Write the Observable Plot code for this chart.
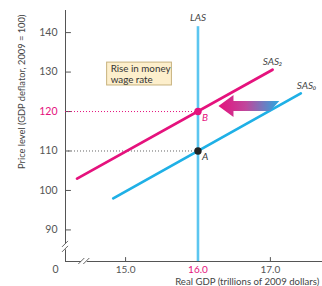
<!DOCTYPE html>
<html><head><meta charset="utf-8">
<script src="https://cdn.jsdelivr.net/npm/d3@7"></script>
<script src="https://cdn.jsdelivr.net/npm/@observablehq/plot@0.6"></script>
<style>body{margin:0;background:#fff;}</style>
</head><body><div id="chart"></div>
<script>
// ---- data ----
const xTicks = [15, 16, 17];
const xTickLabels = ["15.0", "16.0", "17.0"];
const yTicks = [90, 100, 110, 120, 130, 140];
const yTickLabels = ["90", "100", "110", "120", "130", "140"];
const highlightX = 16;     // tick label drawn in magenta
const highlightY = 120;    // tick label drawn in magenta

const sas0X = [14.83, 17.42];
const sas0Y = [98.0, 124.6];
const sas2X = [14.33, 17.03];
const sas2Y = [103.0, 130.6];
const lasX = 16;
const lasY = [82, 141.5];

const pointNames = ["A", "B"];
const pointX = [16, 16];
const pointY = [110, 120];

const curveLabels = ["LAS", "SAS₂", "SAS₀"];
const curveLabelX = [16, 17.03, 17.5];
const curveLabelY = [143.8, 132.6, 126.6];

const noteText = "Rise in money\nwage rate";
const noteBox = {x1: 14.745, x2: 15.64, y1: 126.6, y2: 132.4};
const arrowFrom = 17.13, arrowTo = 16.29, arrowY = 121.3;

const xDomain = [14.17, 17.72];
const yDomain = [82, 145.6];
const yBreak = 85.7, xBreak = 14.43;

const magenta = "#e5127d", blue = "#1fb0e6", lasBlue = "#5cc6f0", axisGray = "#555";
const font = "Lato, 'DejaVu Sans', sans-serif";

function extras(index, scales) {
  const x = scales.x, y = scales.y;
  const g = d3.create("svg:g");
  const defs = g.append("defs");
  const lg = defs.append("linearGradient").attr("id", "shiftGrad")
    .attr("x1", "0%").attr("x2", "100%").attr("y1", "0%").attr("y2", "0%");
  lg.append("stop").attr("offset", "0%").attr("stop-color", "#e5127d");
  lg.append("stop").attr("offset", "45%").attr("stop-color", "#c0479c");
  lg.append("stop").attr("offset", "100%").attr("stop-color", "#2aa8e0");
  const x0 = x(arrowFrom), x1 = x(arrowTo), yc = y(arrowY);
  const hl = 15, bw = 5, hw = 11;
  const pts = [[x1, yc], [x1 + hl, yc - hw], [x1 + hl, yc - bw], [x0, yc - bw],
               [x0 - 9, yc + bw], [x1 + hl, yc + bw], [x1 + hl, yc + hw]];
  g.append("path").attr("d", "M" + pts.map(p => p.join(",")).join("L") + "Z")
    .attr("fill", "url(#shiftGrad)");
  // axis breaks
  const bx = x(xDomain[0]), by = y(yBreak);
  g.append("rect").attr("x", bx - 2).attr("y", by - 3).attr("width", 4).attr("height", 6).attr("fill", "white");
  for (const d of [-2.5, 2.5]) {
    g.append("line").attr("x1", bx - 3).attr("y1", by + d + 3).attr("x2", bx + 3).attr("y2", by + d - 3)
      .attr("stroke", axisGray).attr("stroke-width", 0.9);
  }
  const cx = x(xBreak), cy = y(yDomain[0]);
  g.append("rect").attr("x", cx - 3).attr("y", cy - 2).attr("width", 6).attr("height", 4).attr("fill", "white");
  for (const d of [-2.5, 2.5]) {
    g.append("line").attr("x1", cx + d - 3).attr("y1", cy + 3).attr("x2", cx + d + 3).attr("y2", cy - 3)
      .attr("stroke", axisGray).attr("stroke-width", 0.9);
  }
  return g.node();
}

const tickShapeUp = {draw(c, l) { c.moveTo(0, 0); c.lineTo(0, -l); }};
const tickShapeRight = {draw(c, l) { c.moveTo(0, 0); c.lineTo(l, 0); }};

const chart = Plot.plot({
  width: 322, height: 286,
  marginLeft: 65, marginRight: 0, marginTop: 10, marginBottom: 25,
  x: {domain: xDomain, axis: null},
  y: {domain: yDomain, axis: null},
  style: {fontFamily: font, background: "white"},
  marks: [
    // axis lines
    Plot.ruleX([xDomain[0]], {y1: yDomain[0], y2: yDomain[1], stroke: axisGray, strokeWidth: 1}),
    Plot.ruleY([yDomain[0]], {x1: xDomain[0], x2: xDomain[1], stroke: axisGray, strokeWidth: 1}),
    // ticks
    Plot.vector(yTicks, {x: xDomain[0], y: d => d, length: 5, shape: tickShapeRight, anchor: "start", stroke: axisGray, strokeWidth: 1}),
    Plot.vector(xTicks, {x: d => d, y: yDomain[0], length: 4, shape: tickShapeUp, anchor: "start", stroke: axisGray, strokeWidth: 1}),
    Plot.text(yTicks, {x: xDomain[0], y: d => d, text: (d, i) => yTickLabels[i], textAnchor: "end", dx: -8,
      fill: d => d === highlightY ? magenta : axisGray, fontSize: 10.5}),
    Plot.text(xTicks, {x: d => d, y: yDomain[0], text: (d, i) => xTickLabels[i], dy: 8,
      fill: d => d === highlightX ? magenta : axisGray, fontSize: 10}),
    Plot.text(["0"], {x: xDomain[0], y: yDomain[0], dx: -10, dy: 8, fill: axisGray, fontSize: 10.5}),
    Plot.text(["Price level (GDP deflator, 2009 = 100)"], {x: xDomain[0], y: 125, rotate: -90, dx: -43, fill: "#444", fontSize: 9.3}),
    Plot.text(["Real GDP (trillions of 2009 dollars)"], {x: 16.68, y: yDomain[0], dy: 20.5, fill: "#444", fontSize: 9.6}),
    // reference lines
    Plot.ruleY([pointY[1]], {x1: xDomain[0], x2: pointX[1], stroke: magenta, strokeDasharray: "1,2", strokeWidth: 1}),
    Plot.ruleY([pointY[0]], {x1: xDomain[0], x2: pointX[0], stroke: "#666", strokeDasharray: "1,2", strokeWidth: 1}),
    // curves
    Plot.ruleX([lasX], {y1: lasY[0], y2: lasY[1], stroke: lasBlue, strokeWidth: 2.6}),
    Plot.line(sas0X.map((x, i) => ({x, y: sas0Y[i]})), {x: "x", y: "y", stroke: blue, strokeWidth: 2.8}),
    Plot.line(sas2X.map((x, i) => ({x, y: sas2Y[i]})), {x: "x", y: "y", stroke: magenta, strokeWidth: 2.8}),
    Plot.text(curveLabels, {x: (d, i) => curveLabelX[i], y: (d, i) => curveLabelY[i], text: d => d,
      fontStyle: "italic", fill: "#444", fontSize: 10}),
    // points
    Plot.dot(pointNames, {x: (d, i) => pointX[i], y: (d, i) => pointY[i], r: 3.7,
      fill: d => d === "B" ? magenta : "#222"}),
    Plot.text(pointNames, {x: (d, i) => pointX[i], y: (d, i) => pointY[i], text: d => d, dx: 4, dy: 6,
      textAnchor: "start", fontStyle: "italic", fontSize: 10, fill: d => d === "B" ? magenta : "#333"}),
    // note box
    Plot.rect([noteBox], {x1: "x1", x2: "x2", y1: "y1", y2: "y2", fill: "#fdefcc", stroke: "#c8b27e", strokeWidth: 1}),
    Plot.text([noteText], {x: noteBox.x1, y: noteBox.y2, dx: 3.5, dy: 2, textAnchor: "start", lineAnchor: "top",
      lineHeight: 1.1, fill: "#333", fontSize: 9.8}),
    extras
  ]
});
document.getElementById("chart").append(chart);
</script>
</body></html>
